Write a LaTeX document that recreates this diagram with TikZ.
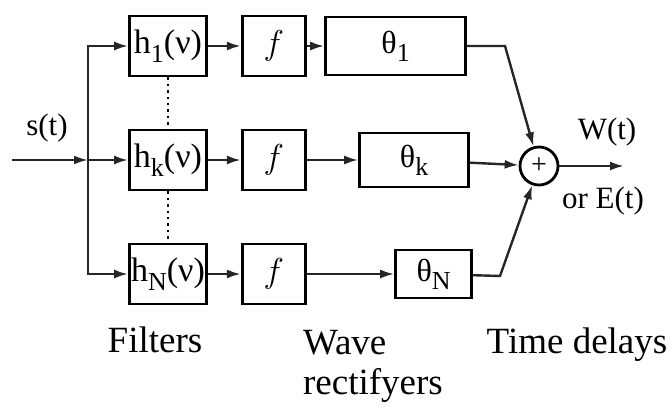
\documentclass[tikz,border=0pt]{standalone}
\usepackage{fontspec}
\setmainfont{Liberation Serif}
\usetikzlibrary{arrows.meta,positioning}
\tikzstyle{block}=[
	rectangle,
	draw,
	line width=1.4pt,
	inner sep=0pt,
	minimum height=30pt,
	font=\fontsize{15}{18}\selectfont
]
\tikzstyle{filter}=[block, minimum width=38.5pt, font=\fontsize{17}{18}\selectfont]
\tikzstyle{rectifier}=[block, minimum width=31.5pt, font=\fontsize{17}{18}\selectfont]
\tikzstyle{delay}=[block, font=\fontsize{16}{18}\selectfont]
\tikzstyle{adder}=[
	circle,
	draw,
	line width=1.4pt,
	inner sep=0pt,
	minimum size=19pt,
	font=\fontsize{14}{16}\selectfont
]
\tikzstyle{signal}=[
	line width=1.2pt,
	-{Latex[length=7pt,width=4.5pt]},
	draw=black!85
]
\tikzstyle{caption}=[font=\fontsize{18.5}{20}\selectfont]
\tikzstyle{tag}=[font=\fontsize{15.5}{18}\selectfont]
\newcommand{\lowsub}[1]{\raisebox{-0.55ex}{\fontsize{13}{14}\selectfont #1}}

\begin{document}
\begin{tikzpicture}[x=0.5pt,y=-0.5pt]
\useasboundingbox (0,0) rectangle (672,418);
% filter bank
\node [filter] (FilterOne) at (168,46) {h\lowsub{1}(ν)};
\node [filter] (FilterK) at (168,160) {h\lowsub{k}(ν)};
\node [filter] (FilterN) at (168,274) {h\lowsub{N}(ν)};
% rectifiers
\node [rectifier] (RectOne)[right=16.5pt of FilterOne] {$f$};
\node [rectifier] (RectK)[right=16.5pt of FilterK] {$f$};
\node [rectifier] (RectN)[right=16.5pt of FilterN] {$f$};
% delays
\node [delay, minimum width=70pt, minimum height=29pt] (DelayOne)[right=8.75pt of RectOne] {θ\lowsub{1}};
\node [delay, minimum width=54.5pt, minimum height=27pt] (DelayK)[right=25.75pt of RectK] {θ\lowsub{k}};
\node [delay, minimum width=38pt, minimum height=24pt] (DelayN)[right=43.75pt of RectN] {θ\lowsub{N}};
\node [adder] (Sum) at (539,166) {+};
% wiring
\coordinate (Source) at (12,160);
\coordinate (Branch) at (88,160);
\coordinate (BendOne) at (505,46);
\coordinate (BendN) at (500,276);
\coordinate (Out) at (624,166);
\draw [signal] (Source) -- (Branch);
\draw [signal] (Branch) -- (FilterK);
\draw [signal] (Branch) |- (FilterOne);
\draw [signal] (Branch) |- (FilterN);
\draw [signal] (FilterOne) -- (RectOne);
\draw [signal] (FilterK) -- (RectK);
\draw [signal] (FilterN) -- (RectN);
\draw [signal] (RectOne) -- (DelayOne);
\draw [signal] (RectK) -- (DelayK);
\draw [signal] (RectN) -- (DelayN);
\draw [signal] (DelayOne) -- (BendOne) -- (Sum);
\draw [signal] (DelayK) -- (Sum);
\draw [signal] (DelayN) -- (BendN) -- (Sum);
\draw [signal] (Sum) -- (Out);
\draw [dotted, line width=1.2pt] (FilterOne) -- (FilterK);
\draw [dotted, line width=1.2pt] (FilterK) -- (FilterN);
% labels
\node [tag] (InLabel) at (47,128) {s(t)};
\node [tag] (WLabel) at (607,132) {W(t)};
\node [tag] (ELabel) at (603,201) {or E(t)};
\node [caption] (FiltersLabel) at (155,340) {Filters};
\node [caption, align=left, anchor=west] (RectLabel) at (296,366) {Wave\\rectifyers};
\node [caption] (DelaysLabel) at (577,345) {Time delays};
\end{tikzpicture}
\end{document}
